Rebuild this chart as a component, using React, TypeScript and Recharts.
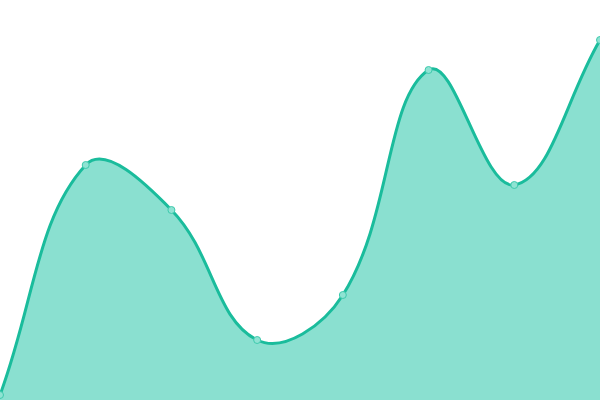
import { AreaChart, Area, XAxis, YAxis } from "recharts";

const labels = ["A", "B", "C", "D", "E", "F", "G", "H"];
const values = [5, 235, 190, 60, 105, 330, 215, 360];

const data = labels.map((label, i) => ({ label, value: values[i] }));

// spline with tension 0.4, control points weighted by segment length
function tensionCurve(context: any) {
  const t = 0.4;
  let line = NaN;
  let pts: number[][] = [];

  const draw = () => {
    const n = pts.length;
    if (!n) return;
    if (line) context.lineTo(pts[0][0], pts[0][1]);
    else context.moveTo(pts[0][0], pts[0][1]);
    const cps = pts.map((cur, i) => {
      const prev = pts[i - 1] || cur;
      const next = pts[i + 1] || cur;
      const d01 = Math.hypot(cur[0] - prev[0], cur[1] - prev[1]);
      const d12 = Math.hypot(next[0] - cur[0], next[1] - cur[1]);
      const sum = d01 + d12;
      const s01 = sum ? d01 / sum : 0;
      const s12 = sum ? d12 / sum : 0;
      const vx = next[0] - prev[0];
      const vy = next[1] - prev[1];
      return {
        px: cur[0] - t * s01 * vx,
        py: cur[1] - t * s01 * vy,
        nx: cur[0] + t * s12 * vx,
        ny: cur[1] + t * s12 * vy,
      };
    });
    for (let i = 1; i < n; i++) {
      context.bezierCurveTo(cps[i - 1].nx, cps[i - 1].ny, cps[i].px, cps[i].py, pts[i][0], pts[i][1]);
    }
  };

  return {
    areaStart() {
      line = 0;
    },
    areaEnd() {
      line = NaN;
    },
    lineStart() {
      pts = [];
    },
    lineEnd() {
      draw();
      if (line || (line !== 0 && pts.length === 1)) context.closePath();
      line = 1 - line;
    },
    point(x: number, y: number) {
      pts.push([+x, +y]);
    },
  };
}

export default function App() {
  return (
    <div style={{ position: "fixed", top: 0, left: 0, width: 600, height: 400, background: "#fff" }}>
      <AreaChart width={600} height={400} data={data} margin={{ top: 0, right: 0, bottom: 0, left: 0 }}>
        <XAxis dataKey="label" hide />
        <YAxis domain={[0, 400]} hide />
        <Area
          type={tensionCurve as any}
          dataKey="value"
          stroke="#1abc9c"
          strokeWidth={3}
          fill="#8ae0d0"
          fillOpacity={1}
          dot={{ r: 3.5, fill: "#8fe3d3", stroke: "#3ecaad", strokeWidth: 1, fillOpacity: 1 }}
          activeDot={false}
          isAnimationActive={false}
        />
      </AreaChart>
    </div>
  );
}
